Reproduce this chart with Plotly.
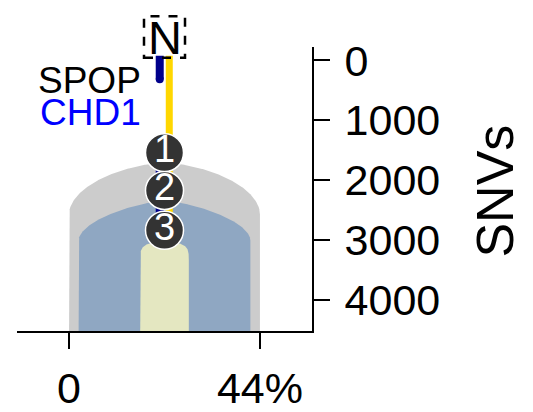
import numpy as np
import plotly.graph_objects as go

# ---- data ----
clone_names = ["clone1", "clone2", "clone3"]
clone_fraction = [44.0, 39.6, 11.2]          # % cells (width)
clone_peak_snvs = [1700, 2330, 3040]          # top of clone
clone_shoulder_snvs = [2570, 3010, 3330]      # where sides become vertical
node_labels = ["1", "2", "3"]
node_snvs = [1540, 2170, 2835]
spop_snvs = [-80, 2835]
chd1_segments = [[-80, 315], [1540, 2835]]
y_ticks = [0, 1000, 2000, 3000, 4000]
x_ticks = [0, 44]
x_tick_labels = ["0", "44%"]

# ---- styles ----
clone_colors = ["#cccccc", "#8fa7c2", "#e4e7c1"]
clone_sharp = [0.15, 0.3, 0.0]
clone_exp = [2.0, 2.0, 3.5]
FONT = "Liberation Sans, Arial, sans-serif"
OFF = 8                      # default page body margin
W, H = 533 - OFF, 412 - OFF
Y_RANGE = [4520, -220]
X_RANGE = [-12, 56]
center = clone_fraction[0] / 2


def px(x):
    return (x - OFF) / W


def py(y):
    return 1 - (y - OFF) / H


fig = go.Figure()

for frac, pk, sh, col, a, n in zip(clone_fraction, clone_peak_snvs, clone_shoulder_snvs,
                                   clone_colors, clone_sharp, clone_exp):
    half = frac / 2
    t = np.linspace(-1, 1, 301)
    at = np.abs(t)
    f = a * at + (1 - a) * (1 - np.clip(1 - at ** n, 0, 1) ** (1 / n))
    xs = list(center + t * half)
    ys = list(pk + (sh - pk) * f)
    bottom = Y_RANGE[0]
    xs = [center - half] + xs + [center + half]
    ys = [bottom] + ys + [bottom]
    fig.add_trace(go.Scatter(x=xs, y=ys, fill="toself", fillcolor=col,
                             line=dict(width=0), mode="lines",
                             hoverinfo="skip", showlegend=False))

# trunk lines
fig.add_trace(go.Scatter(x=[center + 1.1] * 2, y=spop_snvs, mode="lines",
                         line=dict(color="#ffd700", width=7), showlegend=False))
for seg in chd1_segments:
    fig.add_trace(go.Scatter(x=[center - 1.1] * 2, y=seg, mode="lines",
                             line=dict(color="#00008b", width=8), showlegend=False))
fig.add_trace(go.Scatter(x=[center - 1.1], y=[chd1_segments[0][1]], mode="markers",
                         marker=dict(color="#00008b", size=8, line=dict(width=0)),
                         showlegend=False))

# nodes
fig.add_trace(go.Scatter(x=[center] * len(node_snvs), y=node_snvs, mode="markers+text",
                         marker=dict(size=38, color="#333333",
                                     line=dict(color="white", width=1.5)),
                         text=node_labels, textposition="middle center",
                         textfont=dict(color="white", size=38, family=FONT),
                         showlegend=False))

fig.update_layout(
    width=W, height=H, margin=dict(l=0, r=0, t=0, b=0),
    plot_bgcolor="white", paper_bgcolor="white",
    font=dict(family=FONT, color="black"),
    xaxis=dict(domain=[px(17), px(312)], range=X_RANGE, showgrid=False, zeroline=False,
               showline=True, linecolor="black", linewidth=2,
               tickmode="array", tickvals=x_ticks, ticktext=x_tick_labels,
               ticks="outside", ticklen=16, tickwidth=2, tickcolor="black",
               tickfont=dict(size=43, family=FONT), ticklabelstandoff=2),
    yaxis=dict(domain=[py(339), py(38)], range=Y_RANGE, side="right", showgrid=False,
               zeroline=False, showline=True, linecolor="black", linewidth=2,
               tickmode="array", tickvals=y_ticks,
               ticks="outside", ticklen=16, tickwidth=2, tickcolor="black",
               tickfont=dict(size=43, family=FONT), ticklabelstandoff=6),
    showlegend=False,
)

# N box
fig.add_shape(type="rect", xref="paper", yref="paper",
              x0=px(144), x1=px(185), y0=py(49), y1=py(5),
              line=dict(color="black", width=2.5, dash="dash"), fillcolor="rgba(0,0,0,0)")
fig.add_annotation(xref="paper", yref="paper", x=px(164.5), y=py(28),
                   text="N", showarrow=False, font=dict(size=47, family=FONT, color="black"),
                   xanchor="center", yanchor="middle")
fig.add_annotation(xref="paper", yref="paper", x=px(143), y=py(73),
                   text="SPOP", showarrow=False, font=dict(size=37, family=FONT, color="black"),
                   xanchor="right", yanchor="middle")
fig.add_annotation(xref="paper", yref="paper", x=px(143), y=py(107),
                   text="CHD1", showarrow=False, font=dict(size=37, family=FONT, color="#0000ff"),
                   xanchor="right", yanchor="middle")
fig.add_annotation(xref="paper", yref="paper", x=px(495), y=py(191),
                   text="SNVs", showarrow=False, textangle=-90,
                   font=dict(size=52, family=FONT, color="black"),
                   xanchor="center", yanchor="middle")

fig.write_html("out.html", config={"displayModeBar": False})
